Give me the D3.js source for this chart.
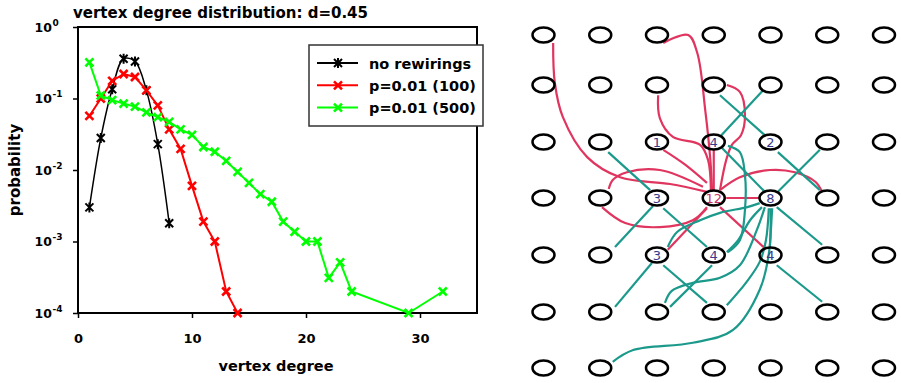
<!DOCTYPE html>
<html>
<head>
<meta charset="utf-8">
<script src="https://cdn.jsdelivr.net/npm/d3@7/dist/d3.min.js"></script>
<style>
  body { margin: 0; background: #fff; }
  text { font-family: "DejaVu Sans", sans-serif; }
</style>
</head>
<body>
<div id="chart"></div>
<script>
// ===================== DATA =====================

const seriesNames = ['no rewirings', 'p=0.01 (100)', 'p=0.01 (500)'];
const seriesColors = ['#000000', '#ff0000', '#00ff00'];

const noRewDeg = [1, 2, 3, 4, 5, 6, 7, 8];
const noRewP = [0.003, 0.028, 0.135, 0.36, 0.33, 0.13, 0.023, 0.0018];

const rew100Deg = [1, 2, 3, 4, 5, 6, 7, 8, 9, 10, 11, 12, 13, 14];
const rew100P = [0.057, 0.10, 0.176, 0.22, 0.20, 0.13, 0.080, 0.037, 0.0197, 0.006, 0.0019, 0.0010, 0.0002, 0.0001];

const rew500Deg = [1, 2, 3, 4, 5, 6, 7, 8, 9, 10, 11, 12, 13, 14, 15, 16, 17, 18, 19, 20, 21, 22, 23, 24, 29, 32];
const rew500P = [0.32, 0.11, 0.095, 0.085, 0.077, 0.064, 0.055, 0.047, 0.037, 0.031, 0.021, 0.018, 0.0134,
  0.0094, 0.0066, 0.0046, 0.0036, 0.0019, 0.00137, 0.0010, 0.0010, 0.00031, 0.00051, 0.0002, 0.0001, 0.0002];

const xTicks = [0, 10, 20, 30];
const yTicks = [1, 0.1, 0.01, 0.001, 0.0001];
const yTickExp = ['0', '-1', '-2', '-3', '-4'];

// grid of the network sketch: 7 x 7 nodes
const gridCols = [0, 1, 2, 3, 4, 5, 6];
const gridRows = [0, 1, 2, 3, 4, 5, 6];

// labelled nodes [col, row, degree]
const nodeLabels = [
  [2, 2, '1'], [3, 2, '4'], [4, 2, '2'],
  [2, 3, '3'], [3, 3, '12'], [4, 3, '8'],
  [2, 4, '3'], [3, 4, '4'], [4, 4, '4']
];

// edges as waypoint lists in grid units [col, row]
const redEdges = [
  [[0.17, 0.16], [0.2, 0.96], [0.34, 1.56], [0.77, 2.27], [1.35, 2.63], [2.23, 2.75], [2.88, 2.89]],
  [[2.11, 0.16], [2.55, 0.0], [2.71, 0.36], [2.85, 1.44], [2.94, 2.32], [2.97, 2.86]],
  [[2.02, 1.18], [2.05, 1.58], [2.28, 1.91], [2.76, 2.05], [2.9, 2.32], [2.95, 2.86]],
  [[3.23, 1.0], [3.46, 1.12], [3.55, 1.53], [3.48, 1.88], [3.32, 2.05], [3.22, 2.32], [3.11, 2.86]],
  [[2.11, 2.14], [2.49, 2.4], [2.88, 2.73]],
  [[3.0, 2.14], [3.0, 2.86]],
  [[2.81, 2.8], [2.05, 2.5], [1.47, 2.54], [1.22, 2.68], [1.15, 2.84]],
  [[1.03, 3.16], [1.44, 3.44], [2.05, 3.51], [2.63, 3.39], [2.88, 3.16]],
  [[3.22, 3.0], [3.8, 3.0]],
  [[3.11, 2.86], [3.46, 2.63], [3.99, 2.5], [4.43, 2.54], [4.79, 2.71], [4.91, 2.89]],
  [[3.11, 3.16], [3.9, 3.88]],
  [[2.88, 3.18], [2.19, 3.91]]
];

const tealEdges = [
  [[3.11, 1.18], [3.9, 1.88]],
  [[3.87, 1.09], [3.11, 1.91]],
  [[3.25, 2.07], [3.46, 2.18], [3.55, 2.59], [3.55, 3.21], [3.46, 3.74], [3.25, 3.95]],
  [[3.15, 2.11], [3.9, 2.89]],
  [[4.87, 2.14], [4.13, 2.89]],
  [[1.14, 2.18], [1.88, 2.86]],
  [[2.11, 3.18], [2.88, 3.86]],
  [[1.93, 3.14], [1.26, 3.86]],
  [[1.91, 4.14], [1.26, 4.91]],
  [[2.11, 4.18], [2.88, 4.84]],
  [[2.97, 4.18], [2.23, 4.91]],
  [[4.11, 4.18], [4.91, 4.82]],
  [[4.11, 3.16], [4.91, 3.82]],
  [[3.85, 3.16], [3.64, 3.39], [3.43, 3.74], [3.23, 3.95]],
  [[3.9, 3.16], [3.76, 3.56], [3.46, 4.18], [3.11, 4.4], [2.63, 4.49], [2.26, 4.63], [2.14, 4.84]],
  [[3.97, 3.18], [3.92, 3.74], [3.81, 4.12], [3.58, 4.47], [3.23, 4.88]],
  [[4.0, 3.18], [3.98, 3.91], [3.81, 4.61], [3.34, 5.32], [2.63, 5.55], [1.58, 5.68], [1.22, 5.89]],
  [[4.03, 3.18], [3.99, 3.84]],
  [[3.81, 3.09], [3.59, 3.16], [3.11, 3.26], [2.76, 3.39], [2.35, 3.6], [2.19, 3.86]],
  [[4.13, 2.18], [4.87, 2.86]]
];

// ===================== CHART =====================

const svg = d3.select('#chart').append('svg')
  .attr('width', 901).attr('height', 383);

const x = d3.scaleLinear().domain([0, 35]).range([78, 477]);
const y = d3.scaleLog().domain([0.0001, 1]).range([313, 27]);

// title
svg.append('text')
  .attr('x', 73).attr('y', 18)
  .attr('font-size', 15).attr('font-weight', 'bold')
  .text('vertex degree distribution: d=0.45');

// frame
svg.append('rect')
  .attr('x', x(0)).attr('y', y(1))
  .attr('width', x(35) - x(0)).attr('height', y(0.0001) - y(1))
  .attr('fill', 'none').attr('stroke', '#000').attr('stroke-width', 2);

// x axis
const xAxis = svg.append('g')
  .attr('transform', `translate(0,${y(0.0001)})`)
  .call(d3.axisBottom(x).tickValues(xTicks).tickSize(5).tickPadding(16).tickFormat(d3.format('d')));
xAxis.select('.domain').remove();
xAxis.selectAll('line').attr('stroke', '#000').attr('stroke-width', 1.5);
xAxis.selectAll('text')
  .attr('font-family', 'DejaVu Sans').attr('font-size', 13).attr('font-weight', 'bold').attr('fill', '#000');

// y axis
const yAxis = svg.append('g')
  .attr('transform', `translate(${x(0)},0)`)
  .call(d3.axisLeft(y).tickValues(yTicks).tickSize(5).tickFormat(''));
yAxis.select('.domain').remove();
yAxis.selectAll('line').attr('stroke', '#000').attr('stroke-width', 1.5);

const yLab = svg.append('g');
yTicks.forEach((v, i) => {
  yLab.append('text')
    .attr('x', 52).attr('y', y(v) + 4.5)
    .attr('text-anchor', 'end')
    .attr('font-size', 12.5).attr('font-weight', 'bold')
    .text('10');
  yLab.append('text')
    .attr('x', 52.5).attr('y', y(v) - 1.5)
    .attr('font-size', 9).attr('font-weight', 'bold')
    .text(yTickExp[i]);
});

// axis titles
svg.append('text')
  .attr('x', 276).attr('y', 371)
  .attr('text-anchor', 'middle')
  .attr('font-size', 14.5).attr('font-weight', 'bold')
  .text('vertex degree');

svg.append('text')
  .attr('transform', 'translate(20,170) rotate(-90)')
  .attr('text-anchor', 'middle')
  .attr('font-size', 15).attr('font-weight', 'bold')
  .text('probability');

// series
const series = [
  { deg: noRewDeg, p: noRewP, curve: d3.curveCatmullRom.alpha(0.5), width: 1.5 },
  { deg: rew100Deg, p: rew100P, curve: d3.curveLinear, width: 2 },
  { deg: rew500Deg, p: rew500P, curve: d3.curveLinear, width: 2 }
];

function marker(g, cx, cy, color, black) {
  const s = 4;
  g.append('path')
    .attr('d', `M${cx - s},${cy - s}L${cx + s},${cy + s}M${cx - s},${cy + s}L${cx + s},${cy - s}` +
      (black ? `M${cx},${cy - s - 1}L${cx},${cy + s + 1}` : ''))
    .attr('stroke', color).attr('stroke-width', black ? 2 : 2.6).attr('fill', 'none');
}

series.forEach((s, i) => {
  const pts = s.deg.map((d, j) => [d, s.p[j]]);
  const line = d3.line().x(d => x(d[0])).y(d => y(d[1])).curve(s.curve);
  const g = svg.append('g');
  g.append('path').attr('d', line(pts))
    .attr('fill', 'none').attr('stroke', seriesColors[i]).attr('stroke-width', s.width);
  pts.forEach(d => marker(g, x(d[0]), y(d[1]), seriesColors[i], i === 0));
});

// legend
const lg = svg.append('g');
lg.append('rect')
  .attr('x', 309).attr('y', 45).attr('width', 174).attr('height', 81)
  .attr('fill', '#fff').attr('stroke', '#333').attr('stroke-width', 1.5);
seriesNames.forEach((name, i) => {
  const ly = 63 + i * 22.3;
  lg.append('line')
    .attr('x1', 317).attr('x2', 358).attr('y1', ly).attr('y2', ly)
    .attr('stroke', seriesColors[i]).attr('stroke-width', 2);
  marker(lg, 338, ly, seriesColors[i], i === 0);
  lg.append('text')
    .attr('x', 369).attr('y', ly + 5.5)
    .attr('font-size', 14.5).attr('font-weight', 'bold')
    .text(name);
});

// ===================== NETWORK SKETCH =====================

const gx = d3.scaleLinear().domain([0, 6]).range([543.5, 884]);
const gy = d3.scaleLinear().domain(gridRows).range([35, 85, 142, 198, 255, 312, 368]);

const edgeLine = d3.line()
  .x(d => gx(d[0])).y(d => gy(d[1]))
  .curve(d3.curveCatmullRom.alpha(0.5));

const net = svg.append('g');

net.selectAll('path.red').data(redEdges).join('path')
  .attr('class', 'red')
  .attr('d', edgeLine)
  .attr('fill', 'none').attr('stroke', '#e0355f').attr('stroke-width', 2.2);

net.selectAll('path.teal').data(tealEdges).join('path')
  .attr('class', 'teal')
  .attr('d', edgeLine)
  .attr('fill', 'none').attr('stroke', '#1b998b').attr('stroke-width', 2.2);

const nodes = [];
gridRows.forEach(r => gridCols.forEach(c => nodes.push([c, r])));

net.selectAll('ellipse').data(nodes).join('ellipse')
  .attr('cx', d => gx(d[0])).attr('cy', d => gy(d[1]))
  .attr('rx', 11).attr('ry', 7.6)
  .attr('fill', 'none').attr('stroke', '#000').attr('stroke-width', 2.5);

net.selectAll('text.deg').data(nodeLabels).join('text')
  .attr('class', 'deg')
  .attr('x', d => gx(d[0])).attr('y', d => gy(d[1]) + 4.5)
  .attr('text-anchor', 'middle')
  .attr('font-family', 'Liberation Sans, Arial, sans-serif')
  .attr('font-size', 13)
  .attr('fill', d => d[2] === '12' ? '#c8325f' : '#3a3a8a')
  .text(d => d[2]);
</script>
</body>
</html>
